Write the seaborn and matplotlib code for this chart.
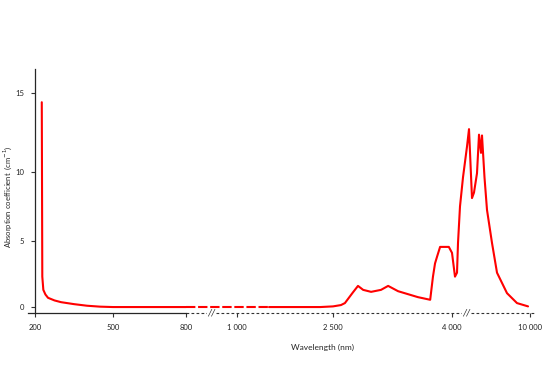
import numpy as np
import pandas as pd
import matplotlib
matplotlib.use("Agg")
import matplotlib.pyplot as plt
import seaborn as sns

# Espectro de absorcion (nm, cm^-1)
wavelength = [226, 228, 232, 240, 250, 275, 300, 350, 400, 450,
              500, 650, 800, 1000, 1200, 1500, 2000, 2300, 2500, 2600,
              2650, 2750, 2815, 2880, 2980, 3105, 3195, 3320, 3570, 3725,
              3760, 3786, 3811, 3850, 3960, 4000, 4230, 4385, 4462, 4615,
              4846, 5154, 5308, 5538, 5692, 5923, 6077, 6231, 6308, 6500,
              6692, 7077, 7462, 8231, 9000, 9850]
absorption = [14.4, 2.3, 1.3, 0.95, 0.7, 0.5, 0.37, 0.22, 0.1, 0.03,
              0, 0, 0, 0, 0, 0, 0, 0, 0.05, 0.15,
              0.3, 1.1, 1.6, 1.3, 1.15, 1.3, 1.6, 1.2, 0.75, 0.55,
              2.3, 3.3, 3.8, 4.55, 4.55, 4.1, 2.3, 2.6, 4.85, 7.5,
              9.6, 11.6, 12.7, 8.1, 8.5, 9.9, 12.35, 11.2, 12.3, 9.6,
              7.25, 4.85, 2.6, 1.05, 0.3, 0.05]

x_ticks = [200, 500, 800, 1000, 2500, 4000, 10000]
x_tick_labels = ["200", "500", "800", "1 000", "2 500", "4 000", "10 000"]
y_ticks = [0, 5, 10, 15]
y_tick_labels = ["0", "5", "10", "15"]
axis_breaks = [900, 5080]

# escala por tramos (eje cortado)
x_scale_pos = [0, 78, 151, 202, 298, 417, 495]
y_scale_pos = [0, 66, 135, 214]


def piecewise_scale(knots, pos):
    knots = np.asarray(knots, float)
    pos = np.asarray(pos, float)

    def build(a, b):
        s0 = (b[1] - b[0]) / (a[1] - a[0])
        s1 = (b[-1] - b[-2]) / (a[-1] - a[-2])

        def f(v):
            v = np.asarray(v, float)
            out = np.interp(v, a, b)
            out = np.where(v < a[0], b[0] + (v - a[0]) * s0, out)
            out = np.where(v > a[-1], b[-1] + (v - a[-1]) * s1, out)
            return out
        return f

    return build(knots, pos), build(pos, knots)


df = pd.DataFrame({"wavelength": wavelength, "absorption": absorption})

sns.set_style("ticks")
plt.rcParams["font.family"] = ["Lato", "DejaVu Sans"]

fig = plt.figure(figsize=(5.5, 3.66), dpi=100)
ax = fig.add_axes([28 / 550, 53 / 366, 506 / 550, 244 / 366])

red = "#ff0000"
solid1 = df[df["wavelength"] <= 800]
dashed = df[(df["wavelength"] >= 800) & (df["wavelength"] <= 1500)]
solid2 = df[df["wavelength"] >= 1500]
sns.lineplot(data=solid1, x="wavelength", y="absorption", color=red, lw=1.5, ax=ax, sort=False)
sns.lineplot(data=dashed, x="wavelength", y="absorption", color=red, lw=1.5, ax=ax, sort=False,
             linestyle=(0, (4.5, 1.3)))
sns.lineplot(data=solid2, x="wavelength", y="absorption", color=red, lw=1.5, ax=ax, sort=False)

ax.set_xscale("function", functions=piecewise_scale(x_ticks, x_scale_pos))
ax.set_yscale("function", functions=piecewise_scale(y_ticks, y_scale_pos))
ax.set_xlim(173, 10308)
ax.set_ylim(-0.45, 16.5)

ax.set_xticks(x_ticks)
ax.set_xticklabels(x_tick_labels)
ax.set_yticks(y_ticks)
ax.set_yticklabels(y_tick_labels)
ax.minorticks_off()
ax.tick_params(axis="both", labelsize=5.5, length=3, width=0.8, color="#333333", labelcolor="#222222")
ax.tick_params(axis="x", pad=5)
ax.tick_params(axis="y", pad=5)

ax.spines["top"].set_visible(False)
ax.spines["right"].set_visible(False)
ax.spines["left"].set_position(("data", 200))
ax.spines["left"].set_linewidth(0.9)
ax.spines["bottom"].set_bounds(173, 800)
ax.spines["bottom"].set_linewidth(0.9)

# resto del eje x punteado, con las marcas de corte
ax.plot([800, 10308], [0, 0], transform=ax.get_xaxis_transform(), color="#333333",
        lw=0.8, linestyle=(0, (2.5, 2)), clip_on=False, zorder=1)
for b in axis_breaks:
    ax.text(b, 0, "//", transform=ax.get_xaxis_transform(), ha="center", va="center",
            fontsize=7, style="italic", color="#222222", zorder=1.5,
            bbox=dict(facecolor="white", edgecolor="none", pad=0.3))

ax.set_xlabel("Wavelength (nm)", fontsize=6)
ax.set_ylabel("Absorption coefficient  (cm$^{-1}$)", fontsize=5.5)
ax.xaxis.set_label_coords(0.583, -0.125)
ax.yaxis.set_label_coords(-0.028, 0.475)

fig.savefig("out.png", dpi=100)
